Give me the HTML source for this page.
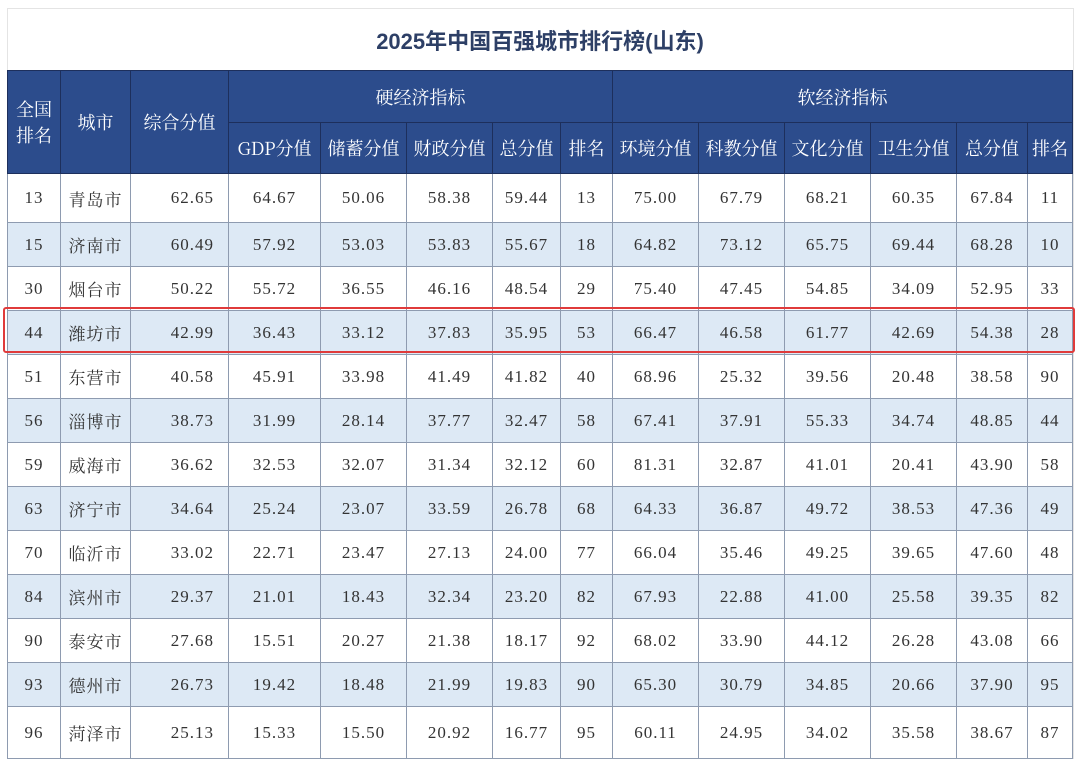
<!DOCTYPE html>
<html><head><meta charset="utf-8">
<style>
html,body{margin:0;padding:0;background:#fff;width:1080px;height:759px;overflow:hidden;}
body{position:relative;font-family:"Liberation Serif","Noto Serif CJK SC",serif;}
#title{position:absolute;left:0;top:24px;width:1080px;text-align:center;font:bold 22px "Liberation Sans","Noto Sans CJK SC",sans-serif;color:#2d3f66;}
#frame{position:absolute;left:7px;top:8px;width:1065px;height:760px;border:1px solid #e4e4e4;}
table{position:absolute;left:7px;top:70px;border-collapse:collapse;table-layout:fixed;}
td,th{border:1px solid #8e9bb0;text-align:center;padding:0;font-size:17px;color:#333;letter-spacing:1px;}
th{background:#2c4c8c;color:#fff;font-weight:normal;border-color:#1d2f5c;font-family:"Noto Serif CJK SC",serif;font-size:18px;letter-spacing:0;}
tr.alt td{background:#dde9f5;}
td.r{text-align:right;padding-right:14px;}
td.c{font-family:"Noto Serif CJK SC",serif;font-size:17px;}
#hl{position:absolute;left:3px;top:307px;width:1068px;height:42px;border:2px solid #e03b3b;border-radius:3px;}
</style></head><body>
<div id="frame"></div>
<div id="title">2025年中国百强城市排行榜(山东)</div>
<table id="tbl">
<colgroup><col style="width:53px"><col style="width:70px"><col style="width:98px"><col style="width:92px"><col style="width:86px"><col style="width:86px"><col style="width:68px"><col style="width:52px"><col style="width:86px"><col style="width:86px"><col style="width:86px"><col style="width:86px"><col style="width:71px"><col style="width:45px"></colgroup>
<thead>
<tr style="height:52px">
<th rowspan="2">全国<br>排名</th>
<th rowspan="2">城市</th>
<th rowspan="2">综合分值</th>
<th colspan="5">硬经济指标</th>
<th colspan="6">软经济指标</th>
</tr>
<tr style="height:51px">
<th>GDP分值</th>
<th>储蓄分值</th>
<th>财政分值</th>
<th>总分值</th>
<th>排名</th>
<th>环境分值</th>
<th>科教分值</th>
<th>文化分值</th>
<th>卫生分值</th>
<th>总分值</th>
<th>排名</th>
</tr>
</thead>
<tbody id="tb"></tbody>
</table>
<div id="hl"></div>
<script>
const ranks=["13","15","30","44","51","56","59","63","70","84","90","93","96"];
const cities=["青岛市","济南市","烟台市","潍坊市","东营市","淄博市","威海市","济宁市","临沂市","滨州市","泰安市","德州市","菏泽市"];
const composite=["62.65","60.49","50.22","42.99","40.58","38.73","36.62","34.64","33.02","29.37","27.68","26.73","25.13"];
const gdp=["64.67","57.92","55.72","36.43","45.91","31.99","32.53","25.24","22.71","21.01","15.51","19.42","15.33"];
const savings=["50.06","53.03","36.55","33.12","33.98","28.14","32.07","23.07","23.47","18.43","20.27","18.48","15.50"];
const fiscal=["58.38","53.83","46.16","37.83","41.49","37.77","31.34","33.59","27.13","32.34","21.38","21.99","20.92"];
const hardTotal=["59.44","55.67","48.54","35.95","41.82","32.47","32.12","26.78","24.00","23.20","18.17","19.83","16.77"];
const hardRank=["13","18","29","53","40","58","60","68","77","82","92","90","95"];
const env=["75.00","64.82","75.40","66.47","68.96","67.41","81.31","64.33","66.04","67.93","68.02","65.30","60.11"];
const edu=["67.79","73.12","47.45","46.58","25.32","37.91","32.87","36.87","35.46","22.88","33.90","30.79","24.95"];
const culture=["68.21","65.75","54.85","61.77","39.56","55.33","41.01","49.72","49.25","41.00","44.12","34.85","34.02"];
const health=["60.35","69.44","34.09","42.69","20.48","34.74","20.41","38.53","39.65","25.58","26.28","20.66","35.58"];
const softTotal=["67.84","68.28","52.95","54.38","38.58","48.85","43.90","47.36","47.60","39.35","43.08","37.90","38.67"];
const softRank=["11","10","33","28","90","44","58","49","48","82","66","95","87"];
const cols=[ranks,cities,composite,gdp,savings,fiscal,hardTotal,hardRank,env,edu,culture,health,softTotal,softRank];
const tb=document.getElementById('tb');
for(let i=0;i<ranks.length;i++){
  const tr=document.createElement('tr');
  
  
  if(i%2===1)tr.className='alt';
  tr.style.height=(i===0?49:(i===12?52:44))+'px';
  cols.forEach((c,j)=>{
    const td=document.createElement('td');
    
    
    td.textContent=c[i];
    if(j===2)td.className='r';
    if(j===1)td.className='c';
    tr.appendChild(td);
  });
  tb.appendChild(tr);
}
</script>
</body></html>
